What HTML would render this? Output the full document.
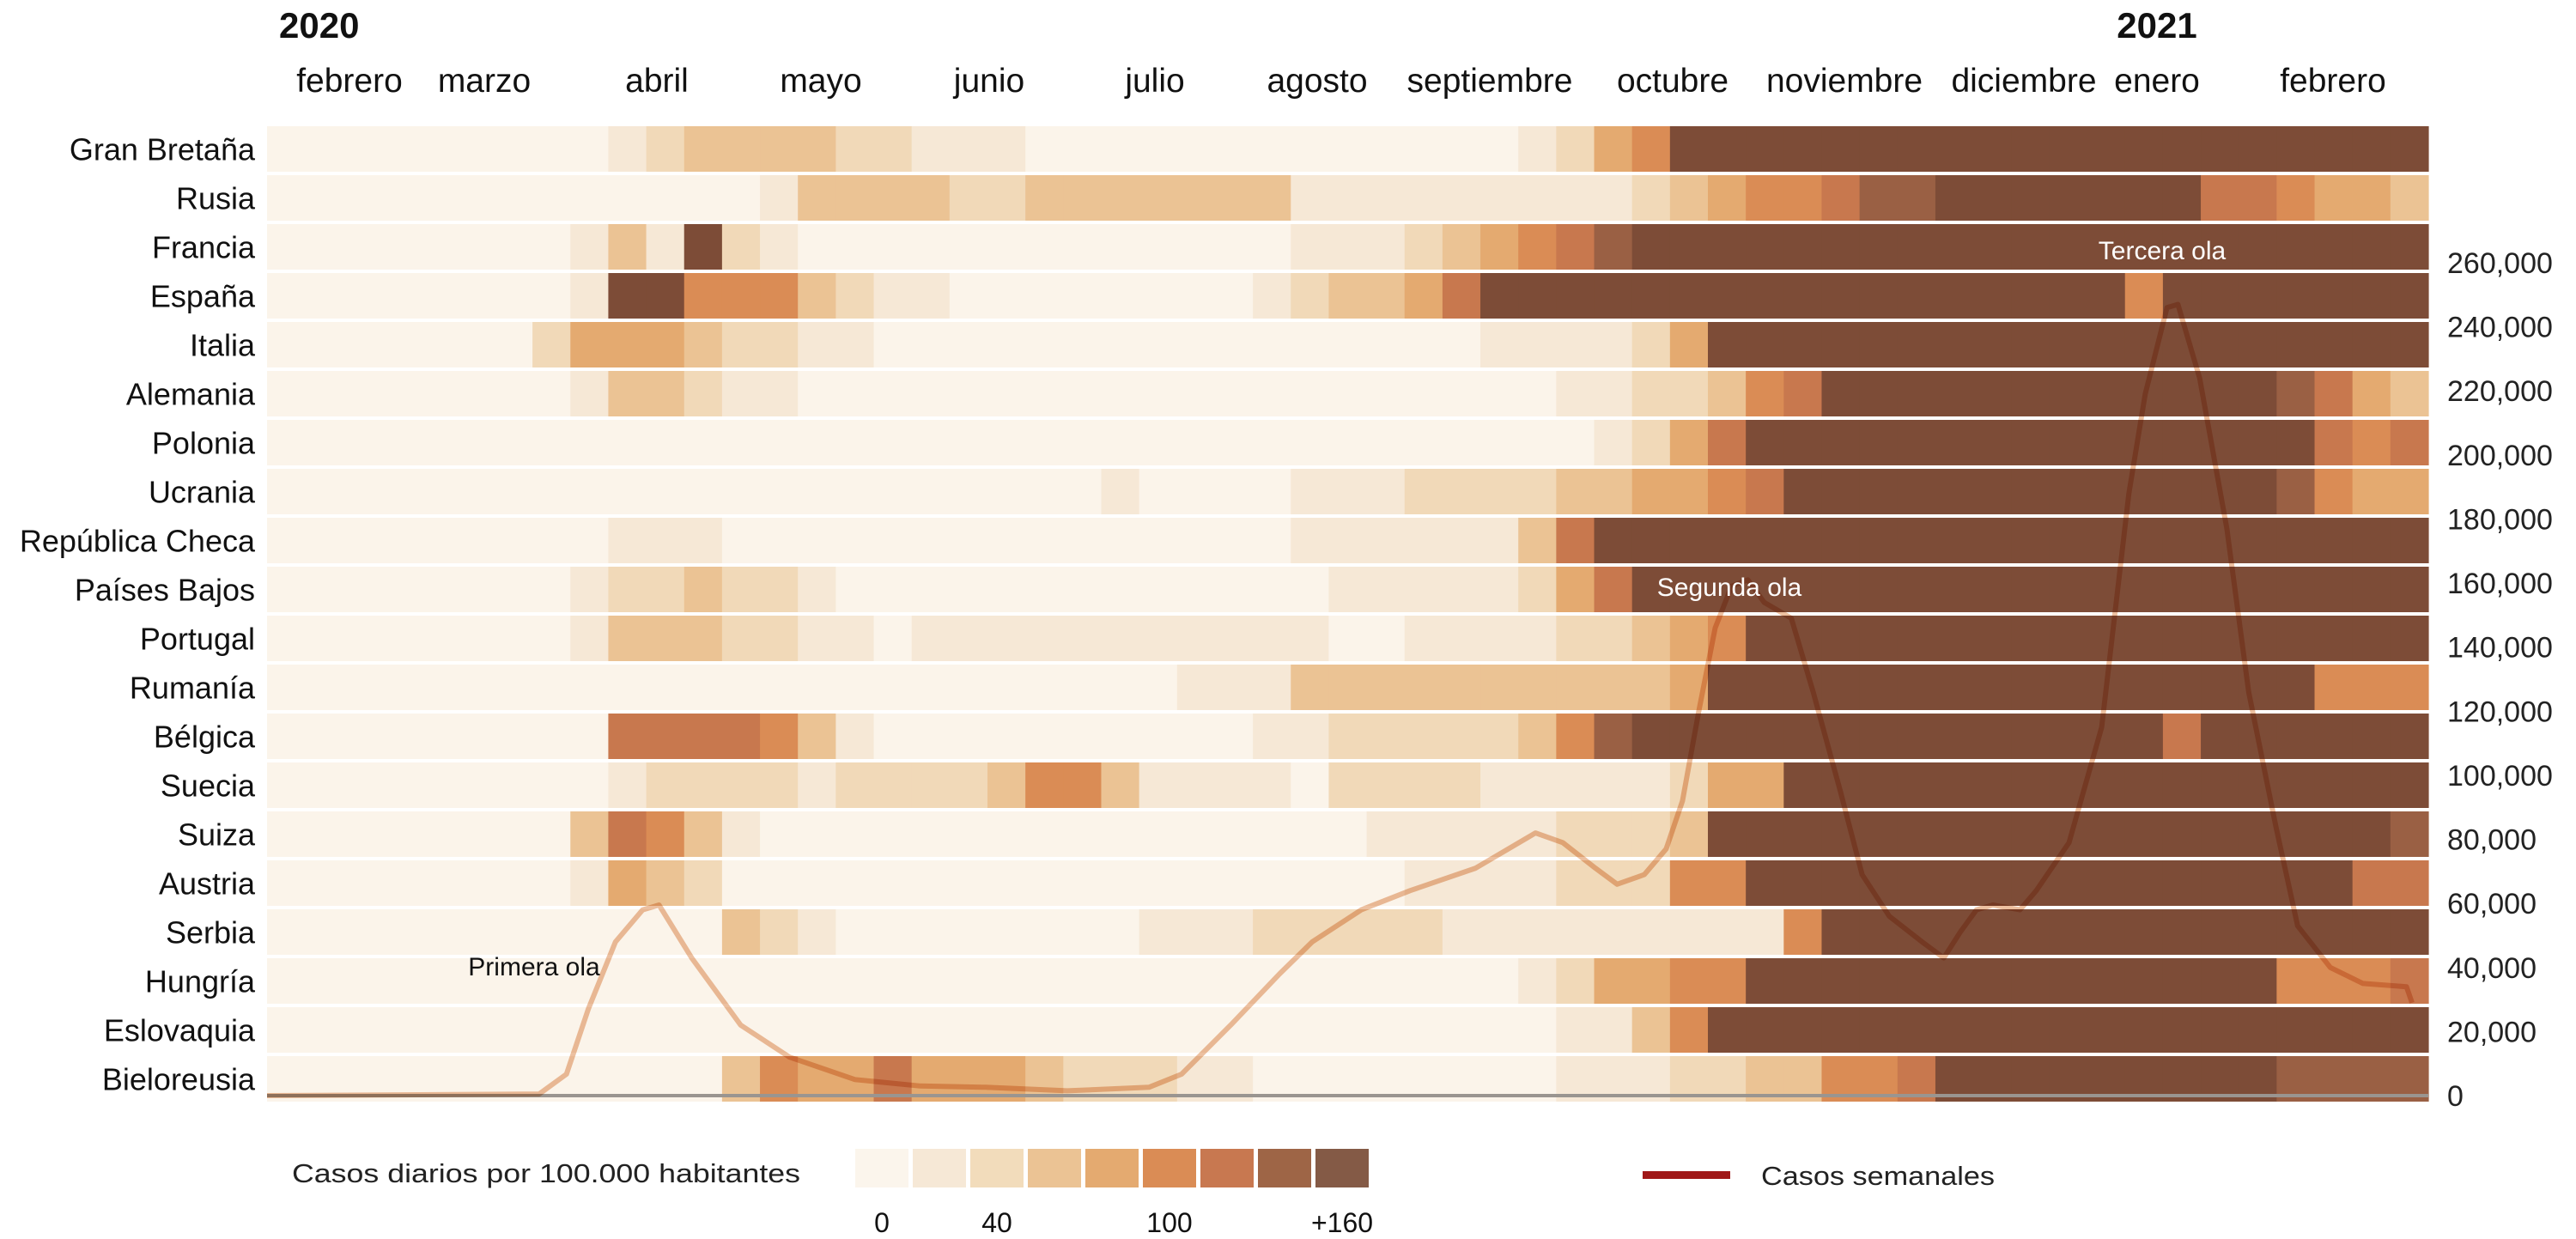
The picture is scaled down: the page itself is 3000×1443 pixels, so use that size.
<!DOCTYPE html>
<html><head><meta charset="utf-8"><style>
html,body{margin:0;padding:0;background:#fff;}
svg{display:block;font-family:"Liberation Sans",sans-serif;}
</style></head><body>
<svg id="chart" width="3000" height="1443" viewBox="0 0 3000 1443" xmlns="http://www.w3.org/2000/svg">
<g id="heat"></g>
<g id="line"></g>
<g id="labels"></g>
</svg>
<script>
const countries = ["Gran Bretaña","Rusia","Francia","España","Italia","Alemania","Polonia","Ucrania","República Checa","Países Bajos","Portugal","Rumanía","Bélgica","Suecia","Suiza","Austria","Serbia","Hungría","Eslovaquia","Bieloreusia"];
const months = ["febrero","marzo","abril","mayo","junio","julio","agosto","septiembre","octubre","noviembre","diciembre","enero","febrero"];
const monthCenters = [407,564,765,956,1152,1345,1534,1735,1948,2148,2357,2512,2717];
const rightTicks = [0,20000,40000,60000,80000,100000,120000,140000,160000,180000,200000,220000,240000,260000];
const legendTicks = ["0","40","100","+160"];
const legendTickIdx = [0,2,5,8];
const palette = ["#fbf4ea","#f6e8d6","#f1d9b8","#ebc394","#e4aa70","#da8c55","#c8784e","#9a6044","#7d4c37"];
const legendColors = ["#fbf5ec","#f6e8d6","#f2dcbb","#ebc394","#e4aa70","#da8c55","#c87850","#9e6546","#845a46"];

function runs(list){const a=[];list.forEach(([n,v])=>{for(let i=0;i<n;i++)a.push(v);});return a;}
const levels = [
 runs([[9,0],[1,1],[1,2],[4,3],[2,2],[3,1],[13,0],[1,1],[1,2],[1,4],[1,5],[20,8]]),
 runs([[13,0],[1,1],[4,3],[2,2],[7,3],[9,1],[1,2],[1,3],[1,4],[2,5],[1,6],[2,7],[7,8],[2,6],[1,5],[2,4],[1,3]]),
 runs([[8,0],[1,1],[1,3],[1,1],[1,8],[1,2],[1,1],[13,0],[3,1],[1,2],[1,3],[1,4],[1,5],[1,6],[1,7],[21,8]]),
 runs([[8,0],[1,1],[2,8],[3,5],[1,3],[1,2],[2,1],[8,0],[1,1],[1,2],[2,3],[1,4],[1,6],[17,8],[1,5],[7,8]]),
 runs([[7,0],[1,2],[3,4],[1,3],[2,2],[2,1],[16,0],[4,1],[1,2],[1,4],[19,8]]),
 runs([[8,0],[1,1],[2,3],[1,2],[2,1],[20,0],[2,1],[2,2],[1,3],[1,5],[1,6],[12,8],[1,7],[1,6],[1,4],[1,3]]),
 runs([[35,0],[1,1],[1,2],[1,4],[1,6],[15,8],[1,6],[1,5],[1,6]]),
 runs([[22,0],[1,1],[4,0],[3,1],[4,2],[2,3],[2,4],[1,5],[1,6],[13,8],[1,7],[1,5],[2,4]]),
 runs([[9,0],[3,1],[15,0],[6,1],[1,3],[1,6],[22,8]]),
 runs([[8,0],[1,1],[1,2],[1,2],[1,3],[2,2],[1,1],[13,0],[5,1],[1,2],[1,4],[1,6],[21,8]]),
 runs([[8,0],[1,1],[3,3],[2,2],[2,1],[1,0],[11,1],[2,0],[4,1],[2,2],[1,3],[1,4],[1,5],[18,8]]),
 runs([[24,0],[3,1],[10,3],[1,4],[16,8],[3,5]]),
 runs([[9,0],[4,6],[1,5],[1,3],[1,1],[10,0],[2,1],[5,2],[1,3],[1,5],[1,7],[14,8],[1,6],[6,8]]),
 runs([[9,0],[1,1],[4,2],[1,1],[4,2],[1,3],[2,5],[1,3],[1,1],[3,1],[1,0],[4,2],[5,1],[1,2],[2,4],[17,8]]),
 runs([[8,0],[1,3],[1,6],[1,5],[1,3],[1,1],[16,0],[5,1],[3,2],[1,3],[18,8],[1,7]]),
 runs([[8,0],[1,1],[1,4],[1,3],[1,2],[18,0],[4,1],[3,2],[2,5],[16,8],[2,6]]),
 runs([[12,0],[1,3],[1,2],[1,1],[8,0],[3,1],[2,2],[3,2],[9,1],[1,5],[16,8]]),
 runs([[33,0],[1,1],[1,2],[2,4],[2,5],[14,8],[3,5],[1,6]]),
 runs([[34,0],[2,1],[1,3],[1,5],[19,8]]),
 runs([[12,0],[1,3],[1,5],[2,4],[1,6],[3,4],[1,3],[3,2],[2,1],[8,0],[3,1],[2,2],[2,3],[2,5],[1,6],[9,8],[4,7]])
];
const lineDays = [0,50,55,59,64,69,72,78,87,96,108,120,132,147,162,168,177,186,192,201,210,222,233,238,244,248,253,257,260,263,266,269,272,275,280,284,289,293,298,304,308,311,314,317,322,325,331,337,342,345,349,351,355,360,364,369,373,379,385,393,394];
const lineValues = [0,500,6700,27000,48000,58000,59500,43000,22000,12000,5000,3000,2600,1500,2600,6700,22000,38000,48000,58000,64000,71000,82000,79000,71000,66000,69000,77000,92000,120000,146000,159000,161000,154000,149000,126000,95000,69000,56000,48000,43000,51000,58000,59500,58000,64000,79000,115000,188000,219000,246000,247000,224000,177000,126000,84000,53000,40000,35000,34000,29000];

const NS="http://www.w3.org/2000/svg";
const X0=311,X1=2828,WEEKS=57,DAYS=397,ROW0=147,PITCH=57,RH=53,Y0=1276,YTOP=306,VMAX=260000;
function xw(i){return X0+(X1-X0)*i/WEEKS;}
function xd(d){return X0+(X1-X0)*d/DAYS;}
function yv(v){return Y0-(Y0-YTOP)*v/VMAX;}
function mk(tag,attrs,parent){const e=document.createElementNS(NS,tag);for(const k in attrs)e.setAttribute(k,attrs[k]);parent.appendChild(e);return e;}
const heat=document.getElementById('heat'),lineG=document.getElementById('line'),lab=document.getElementById('labels');

countries.forEach((c,r)=>{
  const y=ROW0+r*PITCH;
  const row=mk('g',{},heat);
  
  
  levels[r].forEach((lv,i)=>{
    const rc=mk('rect',{x:xw(i).toFixed(2),y:y,width:((X1-X0)/WEEKS+0.6).toFixed(2),height:RH,fill:palette[lv]},row);
    
    
  });
  const t=mk('text',{x:297,y:y+RH/2+13,'text-anchor':'end','font-size':36,fill:'#111'},lab);
  t.textContent=c;
  
  
});

const bl=mk('line',{x1:X0,x2:X1,y1:Y0,y2:Y0,stroke:'#9a9590','stroke-width':4},lineG);


const pts=lineDays.map((d,i)=>xd(d).toFixed(1)+','+yv(lineValues[i]).toFixed(1)).join(' ');
const pl=mk('polyline',{points:pts,fill:'none',stroke:'#ecc0a0','stroke-width':6,'stroke-linejoin':'round',style:'mix-blend-mode:multiply'},lineG);



rightTicks.forEach(v=>{
  const t=mk('text',{x:2850,y:yv(v)+12,'font-size':34,fill:'#222'},lab);
  t.textContent=v.toLocaleString('en-US');
  
  
});
months.forEach((m,i)=>{
  const t=mk('text',{x:monthCenters[i],y:107,'text-anchor':'middle','font-size':39,fill:'#111'},lab);
  t.textContent=m;
  
  
});
legendColors.forEach((c,i)=>{
  const r=mk('rect',{x:996+i*67,y:1338,width:62,height:45,fill:c},lab);
  
  
});
legendTicks.forEach((s,i)=>{
  const t=mk('text',{x:996+legendTickIdx[i]*67+31,y:1435,'text-anchor':'middle','font-size':32,fill:'#111'},lab);
  t.textContent=s;
  
  
});
</script>
<svg style="position:absolute;left:0;top:0" width="3000" height="1443">
<text x="325" y="44" font-size="42" font-weight="bold" fill="#111" font-family="Liberation Sans, sans-serif">2020</text>
<text x="2512" y="44" text-anchor="middle" font-size="42" font-weight="bold" fill="#111" font-family="Liberation Sans, sans-serif">2021</text>
<text x="622" y="1136" text-anchor="middle" font-size="30" fill="#111" font-family="Liberation Sans, sans-serif">Primera ola</text>
<text x="2014" y="694" text-anchor="middle" font-size="30" fill="#fff" font-family="Liberation Sans, sans-serif">Segunda ola</text>
<text x="2518" y="302" text-anchor="middle" font-size="30" fill="#fff" font-family="Liberation Sans, sans-serif">Tercera ola</text>
<text x="340" y="1377" font-size="31" fill="#222" textLength="592" lengthAdjust="spacingAndGlyphs" font-family="Liberation Sans, sans-serif">Casos diarios por 100.000 habitantes</text>
<rect x="1913" y="1364" width="102" height="9" fill="#a01818"/>
<text x="2051" y="1380" font-size="31" fill="#222" textLength="272" lengthAdjust="spacingAndGlyphs" font-family="Liberation Sans, sans-serif">Casos semanales</text>
</svg>
</body></html>
